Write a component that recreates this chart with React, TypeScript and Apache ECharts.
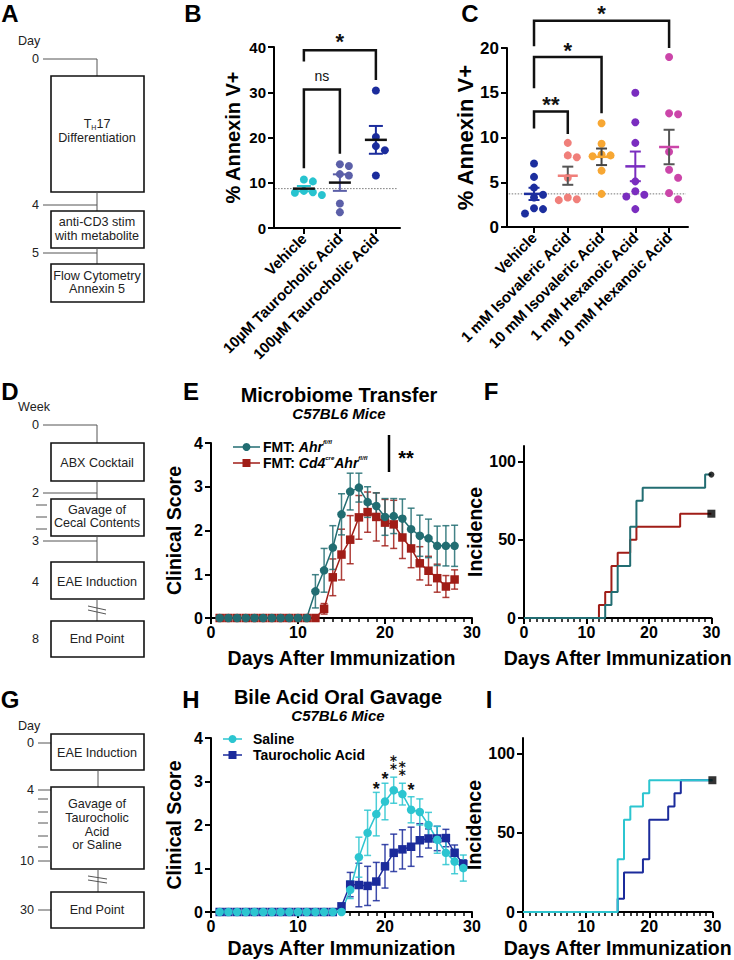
import React, { useEffect, useRef } from 'react';
import * as echarts from 'echarts';

const FONT = 'Arial, "Liberation Sans", Helvetica, sans-serif';

// ---------------- Panel B ----------------
const B_CATEGORIES = ['Vehicle', '10µM Taurocholic Acid', '100µM Taurocholic Acid'];
const B_VALUES = [
  [10.7, 10.3, 8.2, 7.8, 7.3, 7.9],
  [13.7, 14.1, 11.6, 11.9, 5.4, 3.5],
  [30.4, 20.1, 18.1, 17.2, 11.6],
];
const B_DOT_COLORS = ['#27c3cf', '#5b5fa8', '#1b2c9c'];
const B_BAR_COLORS = ['#27c3cf', '#5b5fa8', '#1b2c9c'];
const B_MEAN_COLORS = ['#111111', '#111111', '#111111'];
const B_BRACKETS = [
  { from: 0, to: 1, top: 30.6, leftEnd: 13.2, rightEnd: 16.4, label: 'ns', labelY: 33.6 },
  { from: 0, to: 2, top: 39.3, leftEnd: 36.8, rightEnd: 32.7, label: '*', labelY: 42.2 },
];

// ---------------- Panel C ----------------
const C_CATEGORIES = [
  'Vehicle',
  '1 mM Isovaleric Acid',
  '10 mM Isovaleric Acid',
  '1 mM Hexanoic Acid',
  '10 mM Hexanoic Acid',
];
const C_VALUES = [
  [7.1, 5.6, 4.4, 3.6, 3.3, 2.1, 2.0, 1.5],
  [9.4, 8.0, 7.8, 5.5, 3.3, 3.0, 3.1],
  [11.6, 9.3, 8.1, 7.9, 8.0, 6.3, 3.7],
  [15.0, 11.7, 9.4, 5.1, 4.0, 3.6, 3.4, 2.0],
  [19.0, 12.7, 12.6, 8.4, 6.4, 5.5, 3.8, 3.1],
];
const C_DOT_COLORS = ['#1c2e9e', '#f07f7a', '#f7a733', '#7a2dbf', '#cb45a9'];
const C_MEAN_COLORS = ['#1c2e9e', '#f07f7a', '#f7a733', '#7a2dbf', '#cb45a9'];
const C_BAR_COLORS = ['#1c2e9e', '#555555', '#444444', '#7a2dbf', '#555555'];
const C_BRACKETS = [
  { from: 0, to: 1, top: 12.9, leftEnd: 11.0, rightEnd: 10.4, label: '**', labelY: 14.2 },
  { from: 0, to: 2, top: 19.0, leftEnd: 15.5, rightEnd: 12.7, label: '*', labelY: 20.3 },
  { from: 0, to: 4, top: 23.05, leftEnd: 20.2, rightEnd: 20.0, label: '*', labelY: 24.4 },
];

// ---------------- Panel E ----------------
const E_DAYS = [1, 2, 3, 4, 5, 6, 7, 8, 9, 10, 11, 12, 13, 14, 15, 16, 17, 18, 19, 20, 21, 22, 23, 24, 25, 26, 27, 28];
const E_AHR_MEAN = [0, 0, 0, 0, 0, 0, 0, 0, 0, 0, 0, 0.61, 1.09, 1.61, 2.37, 2.89, 2.98, 2.65, 2.56, 2.31, 2.33, 2.27, 2.03, 1.88, 1.82, 1.65, 1.65, 1.65];
const E_AHR_SEM = [0, 0, 0, 0, 0, 0, 0, 0, 0, 0, 0, 0.38, 0.5, 0.5, 0.47, 0.42, 0.33, 0.35, 0.3, 0.42, 0.4, 0.45, 0.48, 0.47, 0.44, 0.45, 0.46, 0.47];
const E_CD4_MEAN = [0, 0, 0, 0, 0, 0, 0, 0, 0, 0, 0, 0, 0.21, 0.93, 1.45, 1.79, 2.3, 2.42, 2.31, 2.18, 2.14, 1.84, 1.59, 1.25, 1.08, 0.91, 0.72, 0.88];
const E_CD4_SEM = [0, 0, 0, 0, 0, 0, 0, 0, 0, 0, 0, 0, 0.12, 0.42, 0.58, 0.55, 0.5, 0.46, 0.55, 0.53, 0.55, 0.48, 0.44, 0.38, 0.33, 0.32, 0.25, 0.22];

// ---------------- Panel F (incidence steps: [day, %]) ----------------
const F_AHR_STEPS = [[0, 0], [13, 8.3], [14, 16.7], [15, 33.3], [17, 58.3], [18, 75], [19, 83.3], [29, 91.7], [30, 91.7]];
const F_CD4_STEPS = [[0, 0], [12, 8.3], [13, 16.7], [14, 33.3], [15, 41.7], [17, 50], [18, 58.3], [25, 66.7], [30, 66.7]];

// ---------------- Panel H ----------------
const H_DAYS = [1, 2, 3, 4, 5, 6, 7, 8, 9, 10, 11, 12, 13, 14, 15, 16, 17, 18, 19, 20, 21, 22, 23, 24, 25, 26, 27, 28, 29];
const H_SALINE_MEAN = [0, 0, 0, 0, 0, 0, 0, 0, 0, 0, 0, 0, 0, 0, 0, 0.51, 1.26, 1.82, 2.25, 2.54, 2.8, 2.71, 2.35, 2.3, 2.0, 1.66, 1.36, 1.16, 1.01];
const H_SALINE_SEM = [0, 0, 0, 0, 0, 0, 0, 0, 0, 0, 0, 0, 0, 0, 0, 0.2, 0.46, 0.52, 0.5, 0.42, 0.3, 0.25, 0.3, 0.3, 0.29, 0.31, 0.27, 0.28, 0.3];
const H_TCA_MEAN = [0, 0, 0, 0, 0, 0, 0, 0, 0, 0, 0, 0, 0, 0, 0.13, 0.63, 0.62, 0.6, 0.7, 1.05, 1.36, 1.44, 1.5, 1.65, 1.69, 1.69, 1.7, 1.36, 1.1];
const H_TCA_SEM = [0, 0, 0, 0, 0, 0, 0, 0, 0, 0, 0, 0, 0, 0, 0.05, 0.28, 0.5, 0.45, 0.44, 0.5, 0.43, 0.45, 0.45, 0.38, 0.22, 0.28, 0.2, 0.18, 0.1];
// [day, centre of star column, number of stars]
const H_STARS = [[19, 2.93, 1], [20, 3.16, 1], [21, 3.4, 2], [22, 3.26, 2], [23, 2.9, 1]];

// ---------------- Panel I ----------------
const I_SALINE_STEPS = [[0, 0], [15, 33.3], [16, 58.3], [17, 66.7], [19, 75], [20, 83.3], [30, 83.3]];
const I_TCA_STEPS = [[0, 0], [15, 8.3], [16, 25], [19, 33.3], [20, 58.3], [23, 66.7], [24, 75], [25, 83.3], [30, 83.3]];

// ---------------- colours ----------------
const TEAL = '#226d72';
const DARKRED = '#a01d17';
const CYAN = '#2cc5d0';
const NAVY = '#1b2b9b';

// ---------------- helpers ----------------
const mean = (a: number[]) => a.reduce((s, v) => s + v, 0) / a.length;
const sem = (a: number[]) => {
  const m = mean(a);
  const sd = Math.sqrt(a.reduce((s, v) => s + (v - m) * (v - m), 0) / (a.length - 1));
  return sd / Math.sqrt(a.length);
};

function swarm(values: number[], pxPerY: number, pxPerX: number, step = 9, minDist = 8.5): number[] {
  const order = values.map((_, i) => i).sort((a, b) => values[b] - values[a]);
  const placed: { x: number; y: number }[] = [];
  const offsets = new Array(values.length).fill(0);
  const cands = [0, step, -step, 2 * step, -2 * step, 3 * step, -3 * step];
  for (const i of order) {
    const y = values[i] * pxPerY;
    for (const c of cands) {
      if (placed.every((p) => Math.hypot(p.x - c, p.y - y) >= minDist)) {
        placed.push({ x: c, y });
        offsets[i] = c / pxPerX;
        break;
      }
    }
  }
  return offsets;
}

const AX_LINE = { show: true, onZero: false, lineStyle: { color: '#000', width: 2 } };
const AX_TICK = { show: true, length: 6, lineStyle: { color: '#000', width: 2 } };
const labelStyle = (size: number) => ({ color: '#000', fontSize: size, fontWeight: 'bold', fontFamily: FONT });
const nameStyle = (size: number) => ({ color: '#000', fontSize: size, fontWeight: 'bold', fontFamily: FONT });

const SCH = 12.6;

function txt(x: number, y: number, text: string, opts: any = {}) {
  const size = opts.size ?? SCH;
  const weight = opts.weight ?? 'normal';
  const italic = opts.italic ? 'italic ' : '';
  const align = opts.align ?? 'center';
  const style: any = {
    text,
    fill: opts.color ?? '#222',
    font: `${italic}${weight} ${size}px ${FONT}`,
    align,
    textAlign: align,
    verticalAlign: 'middle',
    textVerticalAlign: 'middle',
  };
  if (opts.lineHeight) style.lineHeight = opts.lineHeight;
  return { type: 'text', x, y, silent: true, style };
}
function ln(x1: number, y1: number, x2: number, y2: number, w = 1, c = '#555') {
  return { type: 'line', silent: true, shape: { x1, y1, x2, y2 }, style: { stroke: c, lineWidth: w } };
}
function box(x: number, y: number, w: number, h: number) {
  return { type: 'rect', silent: true, shape: { x, y, width: w, height: h }, style: { fill: '#fff', stroke: '#111', lineWidth: 1.6 } };
}

function dotErrSeries(idx: number, values: number[][], meanColors: string[], barColors: string[], meanHalf: number, capHalf: number) {
  const data = values.map((v, g) => [g, mean(v), sem(v)]);
  return {
    type: 'custom',
    xAxisIndex: idx,
    yAxisIndex: idx,
    clip: false,
    z: 5,
    data,
    renderItem: (params: any, api: any) => {
      const g = params.dataIndex;
      const x = api.value(0);
      const m = api.value(1);
      const s = api.value(2);
      const pm = api.coord([x, m]);
      const pt = api.coord([x, m + s]);
      const pb = api.coord([x, m - s]);
      const bc = barColors[g];
      return {
        type: 'group',
        children: [
          { type: 'line', shape: { x1: pt[0], y1: pt[1], x2: pb[0], y2: pb[1] }, style: { stroke: bc, lineWidth: 2 } },
          { type: 'line', shape: { x1: pt[0] - capHalf, y1: pt[1], x2: pt[0] + capHalf, y2: pt[1] }, style: { stroke: bc, lineWidth: 2 } },
          { type: 'line', shape: { x1: pb[0] - capHalf, y1: pb[1], x2: pb[0] + capHalf, y2: pb[1] }, style: { stroke: bc, lineWidth: 2 } },
          { type: 'line', shape: { x1: pm[0] - meanHalf, y1: pm[1], x2: pm[0] + meanHalf, y2: pm[1] }, style: { stroke: meanColors[g], lineWidth: 2.5 } },
        ],
      };
    },
  };
}

function refLineSeries(idx: number, xmin: number, xmax: number, y: number) {
  return {
    type: 'custom',
    xAxisIndex: idx,
    yAxisIndex: idx,
    clip: false,
    z: 1,
    data: [[xmin, y]],
    renderItem: (_p: any, api: any) => {
      const a = api.coord([xmin, y]);
      const b = api.coord([xmax, y]);
      return { type: 'line', shape: { x1: a[0], y1: a[1], x2: b[0], y2: b[1] }, style: { stroke: '#777', lineWidth: 1, lineDash: [1.5, 1.5] } };
    },
  };
}

function dotSeries(idx: number, values: number[][], colors: string[], pxPerY: number, pxPerX: number) {
  return values.map((vals, g) => {
    const off = swarm(vals, pxPerY, pxPerX);
    return {
      type: 'scatter',
      xAxisIndex: idx,
      yAxisIndex: idx,
      symbol: 'circle',
      symbolSize: 8,
      z: 3,
      itemStyle: { color: colors[g], opacity: 1 },
      data: vals.map((v, i) => [g + off[i], v]),
    };
  });
}

function bracketSeries(idx: number, brackets: any[], labelSize: number) {
  return {
    type: 'custom',
    xAxisIndex: idx,
    yAxisIndex: idx,
    clip: false,
    z: 6,
    data: brackets.map((b) => [b.from, b.top]),
    renderItem: (params: any, api: any) => {
      const b = brackets[params.dataIndex];
      const l1 = api.coord([b.from, b.leftEnd]);
      const t1 = api.coord([b.from, b.top]);
      const t2 = api.coord([b.to, b.top]);
      const l2 = api.coord([b.to, b.rightEnd]);
      const lp = api.coord([(b.from + b.to) / 2, b.labelY]);
      const isStar = b.label.indexOf('*') >= 0;
      return {
        type: 'group',
        children: [
          { type: 'polyline', shape: { points: [l1, t1, t2, l2] }, style: { stroke: '#111', lineWidth: 2.5, fill: 'none' } },
          {
            type: 'text',
            x: lp[0],
            y: lp[1] + (isStar ? labelSize * 0.22 : 0),
            style: {
              text: b.label,
              fill: '#111',
              font: `${isStar ? 'bold' : 'normal'} ${isStar ? labelSize : 14}px ${FONT}`,
              align: 'center',
              textAlign: 'center',
              verticalAlign: 'middle',
              textVerticalAlign: 'middle',
            },
          },
        ],
      };
    },
  };
}

function timeErrSeries(idx: number, days: number[], means: number[], sems: number[], color: string) {
  const data = days.map((d, i) => [d, means[i], sems[i]]).filter((d) => d[2] > 0);
  return {
    type: 'custom',
    xAxisIndex: idx,
    yAxisIndex: idx,
    clip: false,
    z: 2,
    data,
    renderItem: (_p: any, api: any) => {
      const x = api.value(0);
      const m = api.value(1);
      const s = api.value(2);
      const pt = api.coord([x, m + s]);
      const pb = api.coord([x, Math.max(0, m - s)]);
      const cap = 3.5;
      const st = { stroke: color, lineWidth: 1.5, opacity: 0.85 };
      return {
        type: 'group',
        children: [
          { type: 'line', shape: { x1: pt[0], y1: pt[1], x2: pb[0], y2: pb[1] }, style: st },
          { type: 'line', shape: { x1: pt[0] - cap, y1: pt[1], x2: pt[0] + cap, y2: pt[1] }, style: st },
          { type: 'line', shape: { x1: pb[0] - cap, y1: pb[1], x2: pb[0] + cap, y2: pb[1] }, style: st },
        ],
      };
    },
  };
}

function timeLineSeries(idx: number, days: number[], means: number[], color: string, symbol: string) {
  return {
    type: 'line',
    xAxisIndex: idx,
    yAxisIndex: idx,
    z: 3,
    symbol,
    symbolSize: 8.5,
    showSymbol: true,
    lineStyle: { color, width: 1.5 },
    itemStyle: { color },
    data: days.map((d, i) => [d, means[i]]),
  };
}

function stepSeries(idx: number, steps: number[][], color: string) {
  return {
    type: 'line',
    xAxisIndex: idx,
    yAxisIndex: idx,
    step: 'end',
    symbol: 'none',
    z: 3,
    lineStyle: { color, width: 2 },
    itemStyle: { color },
    data: steps,
  };
}

function endMarker(idx: number, steps: number[][], symbol: string, size: number) {
  const last = steps[steps.length - 1];
  return {
    type: 'scatter',
    xAxisIndex: idx,
    yAxisIndex: idx,
    symbol,
    symbolSize: size,
    z: 4,
    itemStyle: { color: '#000' },
    data: [last],
  };
}

// single stars are '*'; a vertical pair is the one character '⁑' (two asterisks aligned vertically)
function starSeries(idx: number, stars: number[][], size: number) {
  return {
    type: 'custom',
    xAxisIndex: idx,
    yAxisIndex: idx,
    clip: false,
    z: 6,
    data: stars,
    renderItem: (_p: any, api: any) => {
      const p = api.coord([api.value(0), api.value(1)]);
      const n = api.value(2);
      const pair = n > 1;
      return {
        type: 'text',
        x: p[0],
        y: p[1] + (pair ? 0 : size * 0.22),
        style: {
          text: pair ? '⁑' : '*',
          fill: '#111',
          font: pair ? `bold 17px "DejaVu Sans", ${FONT}` : `bold ${size}px ${FONT}`,
          align: 'center',
          textAlign: 'center',
          verticalAlign: 'middle',
          textVerticalAlign: 'middle',
        },
      };
    },
  };
}

function catXAxis(idx: number, min: number, max: number, cats: string[], size: number) {
  const vals = cats.map((_, i) => i);
  return {
    gridIndex: idx,
    type: 'value',
    min,
    max,
    axisLine: AX_LINE,
    axisTick: { ...AX_TICK, customValues: vals },
    axisLabel: { ...labelStyle(size), customValues: vals, rotate: 45, margin: 8, formatter: (v: number) => cats[Math.round(v)] ?? '' },
    splitLine: { show: false },
  };
}
function dayXAxis(idx: number, gap: number) {
  return {
    gridIndex: idx,
    type: 'value',
    min: 0,
    max: 30,
    interval: 10,
    axisLine: AX_LINE,
    axisTick: AX_TICK,
    minorTick: { show: true, splitNumber: 10, length: 4, lineStyle: { color: '#000', width: 1.5 } },
    axisLabel: { ...labelStyle(16), margin: 6 },
    splitLine: { show: false },
    minorSplitLine: { show: false },
    name: 'Days After Immunization',
    nameLocation: 'middle',
    nameGap: gap,
    nameTextStyle: nameStyle(19.5),
  };
}
function valYAxis(idx: number, min: number, max: number, interval: number | null, name: string, gap: number, labelSize: number, nameSize: number, custom?: number[]) {
  const ax: any = {
    gridIndex: idx,
    type: 'value',
    min,
    max,
    axisLine: AX_LINE,
    axisTick: { ...AX_TICK },
    axisLabel: { ...labelStyle(labelSize), margin: 8 },
    splitLine: { show: false },
    name,
    nameLocation: 'middle',
    nameGap: gap,
    nameTextStyle: nameStyle(nameSize),
  };
  if (interval !== null) ax.interval = interval;
  if (custom) {
    ax.axisTick.customValues = custom;
    ax.axisLabel.customValues = custom;
  }
  return ax;
}

function schematicElements() {
  const els: any[] = [];
  // ---- A ----
  els.push(txt(18, 41, 'Day', { align: 'left' }));
  els.push(txt(39, 59, '0', { align: 'right' }));
  els.push(ln(43, 59, 97, 59), ln(97, 59, 97, 76));
  els.push(box(51, 76, 93, 116));
  els.push({
    type: 'text',
    x: 97,
    y: 124,
    silent: true,
    style: {
      text: '{a|T}{s|H}{a|17}',
      rich: {
        a: { fontFamily: FONT, fontSize: SCH, fill: '#222', color: '#222', lineHeight: 14 },
        s: { fontFamily: FONT, fontSize: 7, fill: '#222', color: '#222', lineHeight: 14, verticalAlign: 'bottom' },
      },
      align: 'center',
      textAlign: 'center',
      verticalAlign: 'middle',
      textVerticalAlign: 'middle',
    },
  });
  els.push(txt(97, 138, 'Differentiation'));
  els.push(ln(97, 192, 97, 211));
  els.push(txt(39, 205, '4', { align: 'right' }), ln(43, 205, 97, 205));
  els.push(box(51, 211, 93, 37));
  els.push(txt(97, 222, 'anti-CD3 stim'), txt(97, 236, 'with metabolite'));
  els.push(txt(39, 253, '5', { align: 'right' }), ln(43, 253, 97, 253), ln(97, 248, 97, 264));
  els.push(box(51, 264, 93, 38));
  els.push(txt(97, 276, 'Flow Cytometry'), txt(97, 289, 'Annexin 5'));

  // ---- D ----
  els.push(txt(18, 407, 'Week', { align: 'left' }));
  els.push(txt(39, 425, '0', { align: 'right' }), ln(43, 425, 97, 425), ln(97, 425, 97, 443));
  els.push(box(51, 443, 93, 38), txt(97, 463, 'ABX Cocktail'));
  els.push(ln(97, 481, 97, 499));
  els.push(txt(39, 493, '2', { align: 'right' }), ln(43, 493, 97, 493));
  els.push(ln(36, 505, 47, 505), ln(36, 517, 47, 517), ln(36, 529, 47, 529));
  els.push(box(51, 499, 93, 37), txt(97, 510, 'Gavage of'), txt(97, 523, 'Cecal Contents'));
  els.push(txt(39, 541, '3', { align: 'right' }), ln(43, 541, 97, 541), ln(97, 536, 97, 562));
  els.push(box(51, 562, 93, 37), txt(97, 582, 'EAE Induction'), txt(39, 582, '4', { align: 'right' }));
  els.push(ln(97, 599, 97, 621), ln(88, 606, 106, 610), ln(88, 610, 106, 614));
  els.push(box(51, 621, 93, 36), txt(97, 639, 'End Point'), txt(39, 639, '8', { align: 'right' }));

  // ---- G ----
  els.push(txt(18, 726, 'Day', { align: 'left' }));
  els.push(txt(34, 743, '0', { align: 'right' }), ln(38, 743, 51, 743));
  els.push(box(51, 734, 93, 36), txt(97, 753, 'EAE Induction'));
  els.push(ln(98, 770, 98, 787));
  els.push(txt(34, 790, '4', { align: 'right' }), ln(38, 790, 51, 790));
  els.push(ln(38, 799, 48, 799), ln(38, 812, 48, 812), ln(38, 823, 48, 823), ln(38, 836, 48, 836), ln(38, 847, 48, 847));
  els.push(box(51, 787, 93, 82));
  els.push(txt(97, 804, 'Gavage of'), txt(97, 818, 'Taurocholic'), txt(97, 832, 'Acid'), txt(97, 845, 'or Saline'));
  els.push(txt(34, 861, '10', { align: 'right' }), ln(38, 861, 51, 861));
  els.push(ln(98, 869, 98, 892), ln(88, 876, 107, 879), ln(88, 880, 107, 883));
  els.push(txt(34, 910, '30', { align: 'right' }), ln(38, 910, 51, 910));
  els.push(box(51, 892, 93, 36), txt(97, 910, 'End Point'));
  return els;
}

function annotationElements() {
  const els: any[] = [];
  const L = (x: number, y: number, t: string) => txt(x, y, t, { size: 24, weight: 'bold', color: '#000' });
  els.push(L(10, 13, 'A'), L(193, 13, 'B'), L(470, 13, 'C'));
  els.push(L(10, 391, 'D'), L(191, 391, 'E'), L(491, 391, 'F'));
  els.push(L(10, 699, 'G'), L(191, 699, 'H'), L(489, 699, 'I'));

  // titles
  els.push(txt(339, 394.5, 'Microbiome Transfer', { size: 20, weight: 'bold', color: '#000', lineHeight: 18 }));
  els.push(txt(339, 413, 'C57BL6 Mice', { size: 15, weight: 'bold', italic: true, color: '#000', lineHeight: 14 }));
  els.push(txt(338, 697, 'Bile Acid Oral Gavage', { size: 20, weight: 'bold', color: '#000', lineHeight: 18 }));
  els.push(txt(338, 715.5, 'C57BL6 Mice', { size: 15, weight: 'bold', italic: true, color: '#000', lineHeight: 14 }));

  // legend E
  const rich = {
    b: { fontFamily: FONT, fontWeight: 'bold', fontSize: 14, fill: '#000', color: '#000', lineHeight: 16 },
    i: { fontFamily: FONT, fontWeight: 'bold', fontStyle: 'italic', fontSize: 14, fill: '#000', color: '#000', lineHeight: 16 },
    s: { fontFamily: FONT, fontWeight: 'bold', fontStyle: 'italic', fontSize: 6, fill: '#000', color: '#000', verticalAlign: 'top', lineHeight: 16 },
  };
  const legRow = (y: number, color: string, sym: 'circle' | 'rect', x1: number, x2: number, tx: number, text: string, useRich: boolean) => {
    const cx = (x1 + x2) / 2;
    const list: any[] = [ln(x1, y, x2, y, 1.5, color)];
    if (sym === 'circle') list.push({ type: 'circle', silent: true, shape: { cx, cy: y, r: 4 }, style: { fill: color } });
    else list.push({ type: 'rect', silent: true, shape: { x: cx - 4, y: y - 4, width: 8, height: 8 }, style: { fill: color } });
    list.push({
      type: 'text',
      x: tx,
      y,
      silent: true,
      style: useRich
        ? { text, rich, align: 'left', textAlign: 'left', verticalAlign: 'middle', textVerticalAlign: 'middle' }
        : { text, fill: '#000', font: `bold 14px ${FONT}`, lineHeight: 15, align: 'left', textAlign: 'left', verticalAlign: 'middle', textVerticalAlign: 'middle' },
    });
    return list;
  };
  els.push(...legRow(447, TEAL, 'circle', 233, 260, 263, '{b|FMT: }{i|Ahr}{s|fl/fl}', true));
  els.push(...legRow(463, DARKRED, 'rect', 233, 260, 263, '{b|FMT: }{i|Cd4}{s|cre}{i|Ahr}{s|fl/fl}', true));
  els.push(ln(389, 435, 389, 472, 2.5, '#000'));
  els.push(txt(406, 458, '**', { size: 20, weight: 'bold', color: '#000' }));

  // legend H
  els.push(...legRow(739, CYAN, 'circle', 223, 242, 253, 'Saline', false));
  els.push(...legRow(755, NAVY, 'rect', 223, 242, 253, 'Taurocholic Acid', false));
  return els;
}

function buildOption() {
  const grids = [
    { left: 274, top: 47, width: 126, height: 181 }, // B
    { left: 507, top: 48, width: 181, height: 179 }, // C
    { left: 211, top: 443, width: 261, height: 175 }, // E
    { left: 524, top: 446, width: 193, height: 172 }, // F
    { left: 211, top: 738, width: 261, height: 174 }, // H
    { left: 523, top: 738, width: 194, height: 174 }, // I
  ];
  const xAxis = [
    catXAxis(0, -0.83, 2.67, B_CATEGORIES, 15),
    catXAxis(1, -0.8, 4.56, C_CATEGORIES, 15),
    dayXAxis(2, 30),
    dayXAxis(3, 30),
    dayXAxis(4, 26),
    dayXAxis(5, 26),
  ];
  const yAxis = [
    valYAxis(0, 0, 40, 10, '% Annexin V+', 31, 15, 20),
    valYAxis(1, 0, 20, 5, '% Annexin V+', 27, 17, 22),
    valYAxis(2, 0, 4, 1, 'Clinical Score', 27, 16, 19.5),
    valYAxis(3, 0, 110, null, 'Incidence', 27, 16, 19.5, [0, 50, 100]),
    valYAxis(4, 0, 4, 1, 'Clinical Score', 27, 16, 19.5),
    valYAxis(5, 0, 110, null, 'Incidence', 24, 16, 19.5, [0, 50, 100]),
  ];

  const series: any[] = [
    // B
    refLineSeries(0, -0.8, 2.6, mean(B_VALUES[0])),
    ...dotSeries(0, B_VALUES, B_DOT_COLORS, 181 / 40, 36),
    dotErrSeries(0, B_VALUES, B_MEAN_COLORS, B_BAR_COLORS, 11, 7),
    bracketSeries(0, B_BRACKETS, 22),
    // C
    refLineSeries(1, -0.75, 4.5, mean(C_VALUES[0])),
    ...dotSeries(1, C_VALUES, C_DOT_COLORS, 179 / 20, 33.75),
    dotErrSeries(1, C_VALUES, C_MEAN_COLORS, C_BAR_COLORS, 10, 5.5),
    bracketSeries(1, C_BRACKETS, 22),
    // E
    timeErrSeries(2, E_DAYS, E_CD4_MEAN, E_CD4_SEM, DARKRED),
    timeErrSeries(2, E_DAYS, E_AHR_MEAN, E_AHR_SEM, TEAL),
    timeLineSeries(2, E_DAYS, E_CD4_MEAN, DARKRED, 'rect'),
    timeLineSeries(2, E_DAYS, E_AHR_MEAN, TEAL, 'circle'),
    // F
    stepSeries(3, F_CD4_STEPS, DARKRED),
    stepSeries(3, F_AHR_STEPS, TEAL),
    endMarker(3, F_AHR_STEPS, 'circle', 6),
    endMarker(3, F_CD4_STEPS, 'rect', 8),
    // H
    timeErrSeries(4, H_DAYS, H_TCA_MEAN, H_TCA_SEM, NAVY),
    timeErrSeries(4, H_DAYS, H_SALINE_MEAN, H_SALINE_SEM, CYAN),
    timeLineSeries(4, H_DAYS, H_TCA_MEAN, NAVY, 'rect'),
    timeLineSeries(4, H_DAYS, H_SALINE_MEAN, CYAN, 'circle'),
    starSeries(4, H_STARS, 18),
    // I
    stepSeries(5, I_TCA_STEPS, NAVY),
    stepSeries(5, I_SALINE_STEPS, CYAN),
    endMarker(5, I_SALINE_STEPS, 'rect', 8),
  ];

  return {
    animation: false,
    backgroundColor: '#ffffff',
    textStyle: { fontFamily: FONT },
    grid: grids,
    xAxis,
    yAxis,
    series,
    graphic: { elements: [...schematicElements(), ...annotationElements()] },
  };
}

export default function App() {
  const ref = useRef<HTMLDivElement>(null);
  useEffect(() => {
    if (!ref.current) return;
    const chart = echarts.init(ref.current, null, { renderer: 'svg', width: 734, height: 960 });
    chart.setOption(buildOption() as any);
    return () => chart.dispose();
  }, []);
  return <div ref={ref} style={{ position: 'absolute', left: 0, top: 0, width: 734, height: 960, background: '#fff' }} />;
}
